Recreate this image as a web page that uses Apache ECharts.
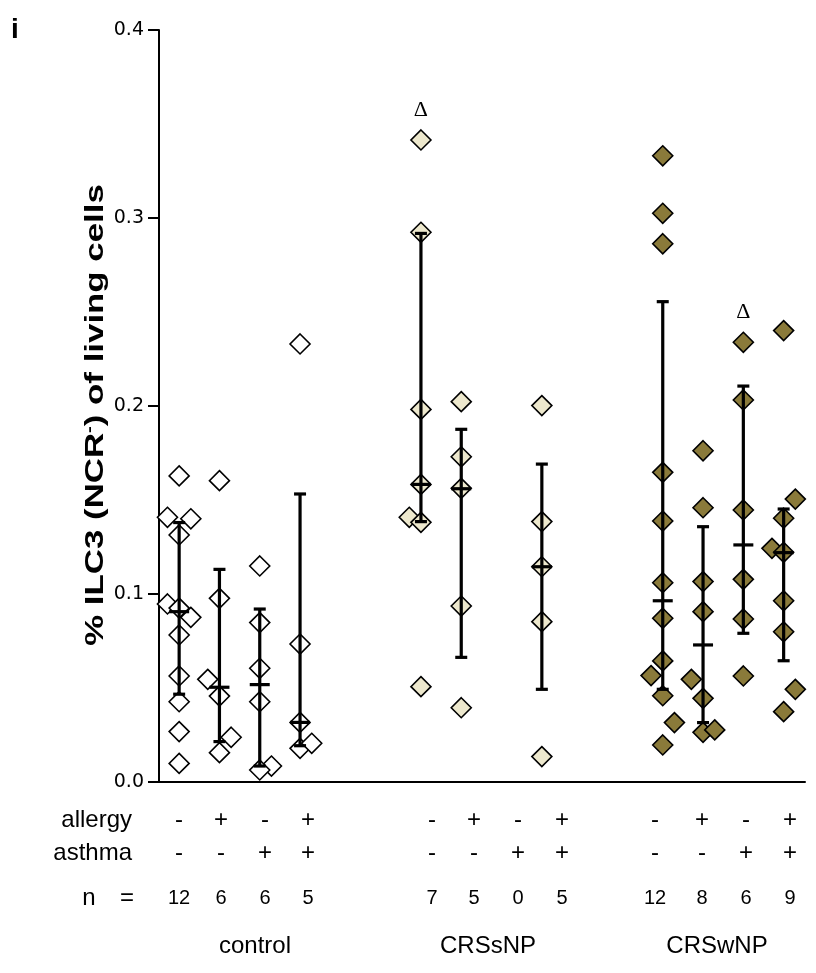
<!DOCTYPE html>
<html>
<head>
<meta charset="utf-8">
<script src="https://cdn.jsdelivr.net/npm/echarts@6/dist/echarts.min.js"></script>
<style>
  html, body { margin: 0; padding: 0; background: #fff; }
  #chart { width: 816px; height: 973px; }
</style>
</head>
<body>
<div id="chart"></div>
<script>
// Study groups and the allergy / asthma subgroups within each
const groups = ['control', 'CRSsNP', 'CRSwNP'];
const allergyRow = ['-', '+', '-', '+', '-', '+', '-', '+', '-', '+', '-', '+'];
const asthmaRow = ['-', '-', '+', '+', '-', '-', '+', '+', '-', '-', '+', '+'];
const nRow = [12, 6, 6, 5, 7, 5, 0, 5, 12, 8, 6, 9];
// slot index of each subgroup column on the x scale
const columnSlot = [0, 1, 2, 3, 6, 7, 8, 9, 12, 13, 14, 15];
const yTicks = [0.0, 0.1, 0.2, 0.3, 0.4];

// % ILC3 (NCR-) of living cells, one array per subgroup
const ctrlNoNo = [0.1628, 0.1408, 0.1400, 0.1314, 0.0947, 0.0925, 0.0876, 0.0782, 0.0564, 0.0427, 0.0268, 0.0099];
const ctrlAllergy = [0.1603, 0.0977, 0.0546, 0.0457, 0.0238, 0.0156];
const ctrlAsthma = [0.1149, 0.0848, 0.0605, 0.0427, 0.0085, 0.0064];
const ctrlBoth = [0.2330, 0.0734, 0.0317, 0.0179, 0.0206];
const sNPNoNo = [0.3415, 0.2924, 0.1982, 0.1583, 0.1408, 0.1381, 0.0507];
const sNPAllergy = [0.2023, 0.1730, 0.1562, 0.0936, 0.0395];
const sNPAsthma = [];
const sNPBoth = [0.2002, 0.1385, 0.1145, 0.0853, 0.0135];
const wNPNoNo = [0.3331, 0.3025, 0.2863, 0.1647, 0.1388, 0.1060, 0.0871, 0.0644, 0.0566, 0.0459, 0.0316, 0.0197];
const wNPAllergy = [0.1762, 0.1459, 0.1066, 0.0906, 0.0546, 0.0445, 0.0264, 0.0277];
const wNPAsthma = [0.2339, 0.2032, 0.1447, 0.1078, 0.0867, 0.0564];
const wNPBoth = [0.2401, 0.1505, 0.1403, 0.1243, 0.1222, 0.0964, 0.0799, 0.0493, 0.0374];

// side on which overlapping points are nudged (-1 left, 0 centre, 1 right)
const ctrlNoNoSide = [0, -1, 1, 0, -1, 0, 1, 0, 0, 0, 0, 0];
const ctrlAllergySide = [0, 0, -1, 0, 1, 0];
const ctrlAsthmaSide = [0, 0, 0, 0, 1, 0];
const ctrlBothSide = [0, 0, 0, 0, 1];
const sNPNoNoSide = [0, 0, 0, 0, -1, 0, 0];
const sNPAllergySide = [0, 0, 0, 0, 0];
const sNPAsthmaSide = [];
const sNPBothSide = [0, 0, 0, 0, 0];
const wNPNoNoSide = [0, 0, 0, 0, 0, 0, 0, 0, -1, 0, 1, 0];
const wNPAllergySide = [0, 0, 0, 0, -1, 0, 0, 1];
const wNPAsthmaSide = [0, 0, 0, 0, 0, 0];
const wNPBothSide = [0, 1, 0, -1, 0, 0, 0, 1, 0];

// median and interquartile range of each subgroup
const medians = [0.0906, 0.0504, 0.0518, 0.0317, 0.1583, 0.1560, null, 0.1145, 0.0964, 0.0729, 0.1261, 0.1220];
const lowerQ = [0.0467, 0.0215, 0.0085, 0.0193, 0.1385, 0.0663, null, 0.0493, 0.0493, 0.0316, 0.0791, 0.0645];
const upperQ = [0.1380, 0.1131, 0.0920, 0.1532, 0.2918, 0.1876, null, 0.1691, 0.2555, 0.1358, 0.2106, 0.1452];

// subgroups marked with a significance triangle
const deltaColumns = [4, 10];

const columns = [ctrlNoNo, ctrlAllergy, ctrlAsthma, ctrlBoth, sNPNoNo, sNPAllergy, sNPAsthma, sNPBoth, wNPNoNo, wNPAllergy, wNPAsthma, wNPBoth];
const sides = [ctrlNoNoSide, ctrlAllergySide, ctrlAsthmaSide, ctrlBothSide, sNPNoNoSide, sNPAllergySide, sNPAsthmaSide, sNPBothSide, wNPNoNoSide, wNPAllergySide, wNPAsthmaSide, wNPBothSide];

const groupFill = ['#ffffff', '#ede8cd', '#8a7a3a'];
const NUDGE = 0.29;

const chart = echarts.init(document.getElementById('chart'), null, { renderer: 'canvas' });

// one scatter series per study group
const scatterSeries = groups.map((g, gi) => {
  const data = [];
  for (let c = gi * 4; c < gi * 4 + 4; c++) {
    const vals = columns[c];
    const maxVal = vals.length ? Math.max(...vals) : null;
    vals.forEach((v, i) => {
      const item = { value: [columnSlot[c] + sides[c][i] * NUDGE, v] };
      if (deltaColumns.includes(c) && v === maxVal) {
        item.label = {
          show: true, position: 'top', distance: 8, formatter: '\u0394',
          fontFamily: 'Liberation Serif', fontSize: 22, color: '#000'
        };
      }
      data.push(item);
    });
  }
  return {
    type: 'scatter', name: g, data,
    symbol: 'diamond', symbolSize: 20,
    itemStyle: { color: groupFill[gi], borderColor: '#000', borderWidth: 1.6, opacity: 1 },
    z: 2
  };
});

// median line plus IQR whiskers
const summaryData = columnSlot.map((s, i) => [s, medians[i], lowerQ[i], upperQ[i]]).filter(d => d[1] != null);
const summarySeries = {
  type: 'custom',
  data: summaryData,
  z: 5,
  renderItem: (params, api) => {
    const x = api.value(0);
    const pMed = api.coord([x, api.value(1)]);
    const pLo = api.coord([x, api.value(2)]);
    const pHi = api.coord([x, api.value(3)]);
    const st = { stroke: '#000', lineWidth: 3.2 };
    return {
      type: 'group',
      children: [
        { type: 'line', shape: { x1: pMed[0], y1: pLo[1], x2: pMed[0], y2: pHi[1] }, style: st },
        { type: 'line', shape: { x1: pMed[0] - 6, y1: pLo[1], x2: pMed[0] + 6, y2: pLo[1] }, style: st },
        { type: 'line', shape: { x1: pMed[0] - 6, y1: pHi[1], x2: pMed[0] + 6, y2: pHi[1] }, style: st },
        { type: 'line', shape: { x1: pMed[0] - 10, y1: pMed[1], x2: pMed[0] + 10, y2: pMed[1] }, style: st }
      ]
    };
  }
};

const rowFont = { fontFamily: 'Liberation Sans', fontSize: 24, fill: '#000' };
const rowX = [179, 221, 265, 308, 432, 474, 518, 562, 655, 702, 746, 790];
const textAt = (x, y, text, extra) => ({
  type: 'text', x, y,
  style: Object.assign({ text, textAlign: 'center', textVerticalAlign: 'middle' }, rowFont, extra || {})
});
const graphics = [];
allergyRow.forEach((t, i) => graphics.push(textAt(rowX[i], 820, t)));
asthmaRow.forEach((t, i) => graphics.push(textAt(rowX[i], 853, t)));
nRow.forEach((t, i) => graphics.push(textAt(rowX[i], 898, String(t), { fontSize: 20 })));
graphics.push(textAt(132, 820, 'allergy', { textAlign: 'right' }));
graphics.push(textAt(132, 853, 'asthma', { textAlign: 'right' }));
graphics.push(textAt(89, 898, 'n'));
graphics.push(textAt(127, 898, '='));
const groupX = [255, 488, 717];
groups.forEach((g, i) => graphics.push(textAt(groupX[i], 946, g)));
graphics.push({ type: 'text', x: 11, y: 16, style: { text: 'i', fontFamily: 'Liberation Sans', fontWeight: 'bold', fontSize: 28, fill: '#000' } });
// y axis title, rotated and stretched along its length
graphics.push({
  type: 'text', x: 96, y: 415, rotation: Math.PI / 2, scaleX: 1.34,
  style: {
    text: '% ILC3 (NCR{sup|-}) of living cells',
    textAlign: 'center', textVerticalAlign: 'middle',
    fontFamily: 'Liberation Sans', fontWeight: 'bold', fontSize: 26, fill: '#000',
    rich: { sup: { fontFamily: 'Liberation Sans', fontWeight: 'bold', fontSize: 15, verticalAlign: 'top', padding: [0, 0, 13, 0] } }
  }
});

chart.setOption({
  animation: false,
  grid: { left: 159, right: 11, top: 30, bottom: 191 },
  xAxis: {
    type: 'value', min: -0.5, max: 15.53,
    axisLine: { show: true, onZero: false, lineStyle: { color: '#000', width: 2 } },
    axisTick: { show: false }, axisLabel: { show: false }, splitLine: { show: false }
  },
  yAxis: {
    type: 'value', min: yTicks[0], max: yTicks[yTicks.length - 1], interval: 0.1,
    axisLine: { show: true, onZero: false, lineStyle: { color: '#000', width: 2 } },
    axisTick: { show: true, length: 11, lineStyle: { color: '#000', width: 2 } },
    axisLabel: { formatter: v => v.toFixed(1), fontFamily: 'DejaVu Sans', fontSize: 19, color: '#000', margin: 15 },
    splitLine: { show: false }
  },
  series: scatterSeries.concat([summarySeries]),
  graphic: graphics
});
</script>
</body>
</html>
